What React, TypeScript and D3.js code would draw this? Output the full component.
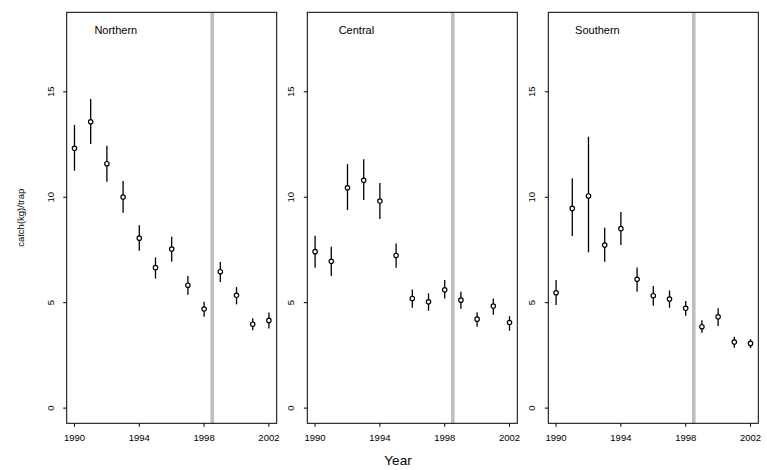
import React from "react";
import * as d3 from "d3";

const years = [1990, 1991, 1992, 1993, 1994, 1995, 1996, 1997, 1998, 1999, 2000, 2001, 2002];
const regions = ["Northern", "Central", "Southern"];

const northernMean = [12.32, 13.58, 11.59, 10.01, 8.06, 6.66, 7.54, 5.83, 4.70, 6.47, 5.35, 3.98, 4.16];
const northernLow = [11.26, 12.52, 10.74, 9.27, 7.46, 6.14, 6.94, 5.38, 4.33, 5.98, 4.92, 3.69, 3.78];
const northernHigh = [13.43, 14.66, 12.44, 10.77, 8.67, 7.15, 8.13, 6.26, 5.04, 6.93, 5.74, 4.26, 4.54];

const centralMean = [7.42, 6.96, 10.45, 10.8, 9.82, 7.24, 5.2, 5.04, 5.61, 5.12, 4.22, 4.84, 4.06];
const centralLow = [6.66, 6.26, 9.39, 9.87, 8.97, 6.66, 4.76, 4.62, 5.2, 4.71, 3.86, 4.43, 3.67];
const centralHigh = [8.17, 7.65, 11.57, 11.8, 10.67, 7.81, 5.63, 5.44, 6.07, 5.52, 4.55, 5.2, 4.36];

const southernMean = [5.47, 9.47, 10.06, 7.73, 8.51, 6.11, 5.33, 5.17, 4.73, 3.86, 4.33, 3.13, 3.07];
const southernLow = [4.89, 8.16, 7.39, 6.94, 7.73, 5.52, 4.85, 4.76, 4.38, 3.57, 3.89, 2.86, 2.85];
const southernHigh = [6.07, 10.9, 12.87, 8.55, 9.3, 6.67, 5.79, 5.58, 5.08, 4.17, 4.73, 3.38, 3.27];

const xTicks = [1990, 1994, 1998, 2002];
const yTicks = [0, 5, 10, 15];
const breakYear = 1998.5;
const yLabel = "catch(kg)/trap";
const xLabel = "Year";

const seriesMean = [northernMean, centralMean, southernMean];
const seriesLow = [northernLow, centralLow, southernLow];
const seriesHigh = [northernHigh, centralHigh, southernHigh];

const W = 767;
const H = 470;
const panelLefts = [66.7, 307.3, 548.3];
const panelW = 210;
const top = 12.3;
const bottom = 423.3;
const font = "'Liberation Sans', Arial, Helvetica, sans-serif";

export default function App() {
  const y = d3.scaleLinear().domain([-0.72, 18.77]).range([bottom, top]);
  return (
    <svg
      width={W}
      height={H}
      style={{ position: "absolute", left: 0, top: 0, background: "#fff" }}
      fontFamily={font}
    >
      <rect x={0} y={0} width={W} height={H} fill="#fff" />
      {regions.map((name, p) => {
        const left = panelLefts[p];
        const x = d3.scaleLinear().domain([1989.52, 2002.48]).range([left, left + panelW]);
        const mean = seriesMean[p];
        const low = seriesLow[p];
        const high = seriesHigh[p];
        return (
          <g key={name}>
            <line
              x1={x(breakYear)}
              x2={x(breakYear)}
              y1={top}
              y2={bottom}
              stroke="#bebebe"
              strokeWidth={3.5}
            />
            {years.map((yr, i) => (
              <g key={yr}>
                <line
                  x1={x(yr)}
                  x2={x(yr)}
                  y1={y(low[i])}
                  y2={y(high[i])}
                  stroke="#000"
                  strokeWidth={1.3}
                />
                <circle
                  cx={x(yr)}
                  cy={y(mean[i])}
                  r={2.2}
                  fill="#fff"
                  stroke="#000"
                  strokeWidth={1.2}
                />
              </g>
            ))}
            <rect
              x={left}
              y={top}
              width={panelW}
              height={bottom - top}
              fill="none"
              stroke="#000"
              strokeWidth={1}
            />
            {xTicks.map((t) => (
              <g key={t}>
                <line x1={x(t)} x2={x(t)} y1={bottom} y2={bottom + 3.5} stroke="#000" />
                <text
                  x={x(t)}
                  y={bottom + 18}
                  fontSize={9.5}
                  textAnchor="middle"
                  fill="#000"
                >
                  {t}
                </text>
              </g>
            ))}
            {yTicks.map((t) => (
              <g key={t}>
                <line x1={left} x2={left - 3.5} y1={y(t)} y2={y(t)} stroke="#000" />
                <text
                  transform={`translate(${left - 13},${y(t)}) rotate(-90)`}
                  fontSize={9.5}
                  textAnchor="middle"
                  fill="#000"
                >
                  {t}
                </text>
              </g>
            ))}
            <text
              x={x(1992.55)}
              y={33.5}
              fontSize={11}
              textAnchor="middle"
              fill="#000"
            >
              {name}
            </text>
          </g>
        );
      })}
      <text
        transform={`translate(24,${(top + bottom) / 2}) rotate(-90)`}
        fontSize={9.5}
        textAnchor="middle"
        fill="#000"
      >
        {yLabel}
      </text>
      <text x={398} y={465} fontSize={13.5} textAnchor="middle" fill="#000">
        {xLabel}
      </text>
    </svg>
  );
}
